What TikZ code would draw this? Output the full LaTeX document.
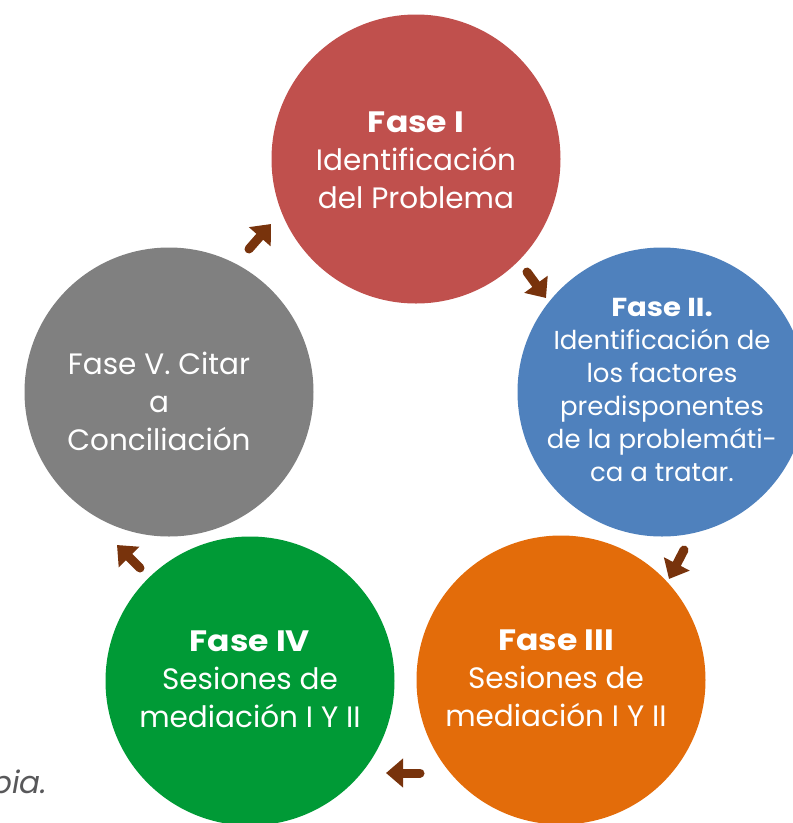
\documentclass[tikz,border=0pt]{standalone}
\usepackage{fontspec}
\setmainfont{Poppins}
\newfontfamily\fasefont{Poppins}[FakeStretch=1.12]
\usetikzlibrary{arrows.meta}
\definecolor{cI}{HTML}{C0504D}
\definecolor{cII}{HTML}{4F81BD}
\definecolor{cIII}{HTML}{E36C0A}
\definecolor{cIV}{HTML}{009A36}
\definecolor{cV}{HTML}{808080}
\definecolor{arr}{HTML}{78330C}
\definecolor{capgray}{HTML}{58585A}
\newcommand{\fasettl}[1]{{\fasefont\bfseries #1}}
\tikzset{
  phase/.style={circle, minimum size=289pt, inner sep=0pt, fill=#1},
  phasetext/.style={text=white, align=center, inner sep=0pt},
  bigtxt/.style={font=\fontsize{29.5}{38}\selectfont},
  smalltxt/.style={font=\fontsize{26}{33}\selectfont},
  cyclearrow/.style={draw=arr, line width=9pt, line cap=round, -{Triangle[width=28pt,length=17pt]}},
}
\begin{document}
\begin{tikzpicture}[x=1pt,y=-1pt]
\useasboundingbox (0,0) rectangle (793,823);
\node[phase=cI] (p1) at (416,159) {};
\node[phase=cII] (p2) at (662,392) {};
\node[phase=cIII] (p3) at (561,680) {};
\node[phase=cIV] (p4) at (250,681) {};
\node[phase=cV] (p5) at (169,392) {};
\node[phasetext, bigtxt] (t1) at ([yshift=-1pt]p1.center) {\fasettl{Fase I}\\Identificación\\del Problema};
\node[phasetext, smalltxt] (t2) at ([yshift=2pt]p2.center) {\fasettl{Fase II.}\\Identificación de\\los factores\\predisponentes\\de la problemáti-\\ca a tratar.};
\node[phasetext, bigtxt] (t3) at ([xshift=-5pt,yshift=2pt]p3.center) {\fasettl{Fase III}\\Sesiones de\\mediación I Y II};
\node[phasetext, bigtxt] (t4) at ([yshift=2pt]p4.center) {\fasettl{Fase IV}\\Sesiones de\\mediación I Y II};
\node[phasetext, bigtxt] (t5) at ([xshift=-10pt,yshift=-9pt]p5.center) {Fase V. Citar\\a\\Conciliación};
\node[anchor=base west, inner sep=0pt, text=capgray, font=\fontsize{31}{37}\selectfont\itshape] (cap) at (-9,793) {pia.};
\coordinate (a1s) at (527,272); \coordinate (a1e) at (546,298);
\coordinate (a2s) at (684,550); \coordinate (a2e) at (669,579);
\coordinate (a3s) at (420,773); \coordinate (a3e) at (386,773);
\coordinate (a4s) at (140,568); \coordinate (a4e) at (117,545);
\coordinate (a5s) at (249,249); \coordinate (a5e) at (271,224);
\draw[cyclearrow] (a1s) -- (a1e);
\draw[cyclearrow] (a2s) -- (a2e);
\draw[cyclearrow] (a3s) -- (a3e);
\draw[cyclearrow] (a4s) -- (a4e);
\draw[cyclearrow] (a5s) -- (a5e);
\end{tikzpicture}
\end{document}
